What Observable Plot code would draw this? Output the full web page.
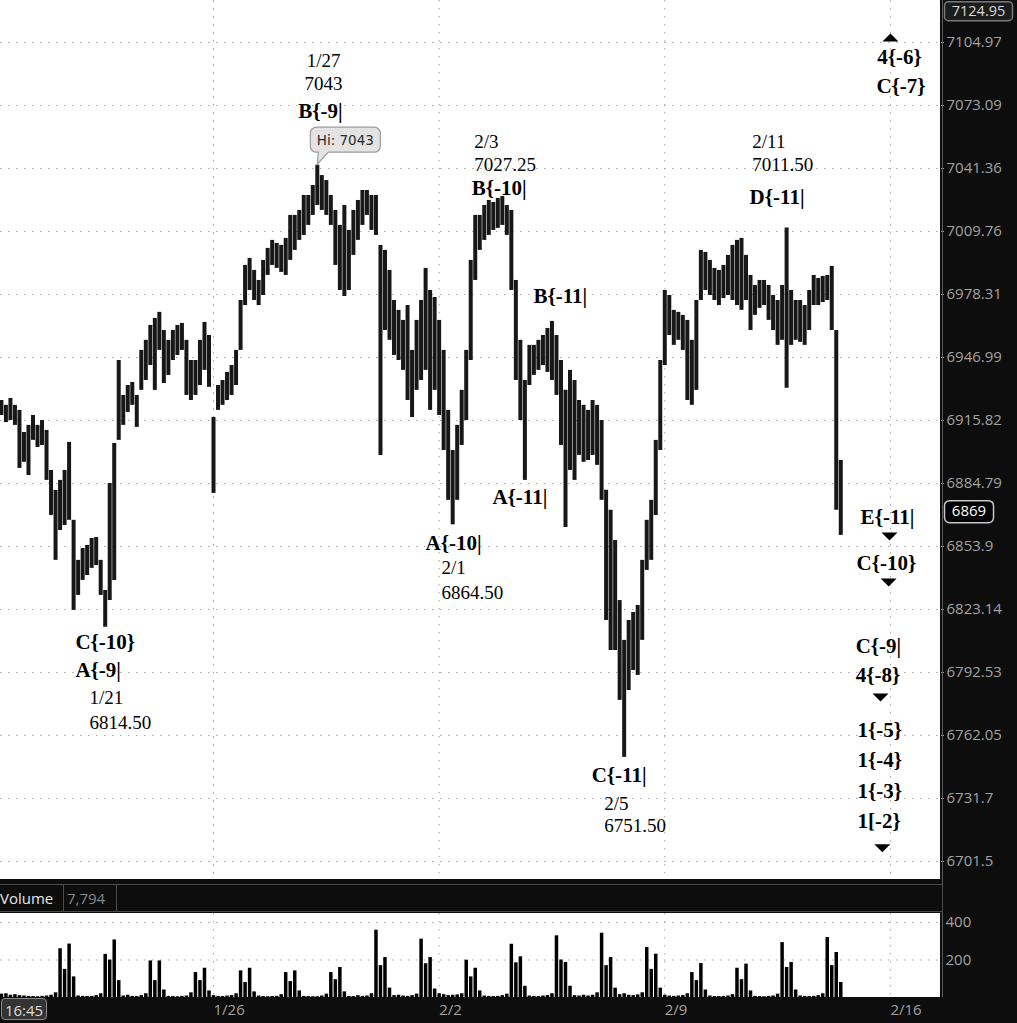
<!DOCTYPE html>
<html><head><meta charset="utf-8">
<script src="https://cdn.jsdelivr.net/npm/d3@7"></script>
<script src="https://cdn.jsdelivr.net/npm/@observablehq/plot@0.6"></script>
<style>
body{margin:0;background:#0d0d0d;}
#wrap{position:relative;width:1017px;height:1023px;background:#0d0d0d;overflow:hidden;font-family:"Open Sans",sans-serif;}
.abs{position:absolute;}
</style></head><body>
<div id="wrap">
  <div class="abs" style="left:0;top:0;width:940px;height:879px;background:#fff;"></div>
  <div class="abs" style="left:0;top:913px;width:940px;height:84px;background:#fff;"></div>
  <div id="main" class="abs" style="left:0;top:0;"></div>
  <div id="vol" class="abs" style="left:0;top:903px;"></div>
  <div class="abs" style="left:942px;top:0;width:1px;height:997px;background:#5a5a5a;"></div>
  <div class="abs" style="left:0;top:884px;width:943px;height:28px;border:1px solid #4a4a4a;border-left:none;box-sizing:border-box;background:#0d0d0d;"></div>
  <div class="abs" style="left:0;top:885px;width:63px;height:26px;border-right:1px solid #4a4a4a;color:#e6e6e6;font-size:15px;line-height:26px;">Volume</div>
  <div class="abs" id="volval" style="left:64px;top:885px;width:53px;height:26px;border-right:1px solid #4a4a4a;color:#8a8a8a;font-size:15px;line-height:26px;padding-left:3px;box-sizing:border-box;"></div>
  <div class="abs" id="timebox" style="left:1px;top:998px;width:46px;height:22px;border:1px solid #8a8a8a;border-radius:4px;background:#333;color:#dcdcdc;font-size:15px;line-height:22px;text-align:center;box-sizing:border-box;"></div>
</div>
<script>
// ---------- data ----------
const priceTicks = [7104.97, 7073.09, 7041.36, 7009.76, 6978.31, 6946.99, 6915.82, 6884.79, 6853.9, 6823.14, 6792.53, 6762.05, 6731.7, 6701.5];
const priceTickLabels = ["7104.97","7073.09","7041.36","7009.76","6978.31","6946.99","6915.82","6884.79","6853.9","6823.14","6792.53","6762.05","6731.7","6701.5"];
const dateTickIdx = [47, 97, 147, 197];
const dateLabels = ["1/26", "2/2", "2/9", "2/16"];
const volTicks = [400, 200];
const topPrice = 7124.95;
const lastPrice = 6869;
const volumeTotal = "7,794";
const timeLabel = "16:45";

const highs = [
6925.7,6923.3,6926.7,6923.3,6920.8,6909.9,6913.4,6918.3,6913.4,6915.8,
6910.9,6891.2,6881.4,6886.3,6891.2,6905.0,6866.7,6847.1,6852.9,6854.4,
6857.8,6858.3,6847.1,6832.4,6884.8,6904.5,6945.5,6928.2,6933.1,6934.6,
6928.2,6950.5,6955.5,6962.9,6966.4,6969.4,6960.4,6955.5,6960.4,6962.9,
6963.9,6955.5,6945.5,6945.5,6955.5,6964.4,6957.9,6917.3,6933.1,6935.6,
6939.6,6943.0,6950.5,6975.3,6992.8,6996.3,6990.3,6985.3,6995.3,7001.3,
7005.3,7003.8,7002.8,7006.3,7017.8,7017.8,7020.3,7027.8,7027.8,7032.8,
7043.0,7037.8,7035.3,7027.8,7020.3,7012.8,7022.8,7010.3,7020.3,7025.3,
7030.3,7030.3,7027.8,7027.8,7002.8,7000.3,6990.3,6975.3,6970.4,6965.4,
6972.8,6950.5,6965.4,6975.3,6991.3,6980.3,6976.8,6965.4,6950.5,6920.8,
6901.0,6913.4,6930.7,6950.5,6995.3,7017.8,7017.8,7022.8,7025.3,7024.3,
7026.3,7027.25,7022.8,7020.3,6985.3,6955.5,6935.6,6953.0,6953.0,6955.5,
6957.9,6961.4,6964.9,6957.9,6945.5,6930.7,6940.6,6935.6,6925.7,6923.3,
6920.8,6925.7,6923.3,6915.8,6881.4,6871.6,6856.8,6827.5,6808.1,6817.8,
6821.7,6825.1,6847.1,6866.7,6876.5,6906.0,6945.5,6980.3,6977.8,6970.4,
6969.4,6967.9,6965.4,6955.5,6975.3,7000.3,6999.3,6995.3,6991.3,6990.3,
6992.8,6997.8,7002.8,7005.3,7006.3,6997.8,6987.8,6982.8,6985.3,6985.3,
6982.8,6977.8,6975.3,6982.8,7011.5,6980.3,6975.3,6975.3,6972.8,6980.3,
6987.8,6986.3,6987.3,6987.8,6992.3,6960.4,6896.1];

const lows = [
6918.3,6914.8,6915.8,6913.4,6892.2,6895.2,6888.7,6906.0,6902.5,6903.5,
6886.3,6869.1,6847.1,6861.7,6864.2,6866.7,6822.7,6830.0,6837.3,6839.7,
6843.2,6844.6,6830.0,6814.5,6827.5,6837.3,6906.0,6913.4,6919.8,6923.3,
6912.4,6930.7,6935.6,6943.0,6930.7,6950.5,6934.1,6938.1,6945.5,6948.0,
6950.5,6928.2,6925.7,6928.2,6933.1,6940.6,6932.2,6879.9,6920.8,6923.3,
6925.7,6928.2,6933.1,6950.5,6972.8,6980.3,6975.3,6972.8,6977.8,6987.8,
6992.8,6991.3,6989.3,6987.8,6995.3,7000.3,7005.3,7007.8,7012.8,7017.8,
7022.8,7020.3,7017.8,7012.8,6992.8,6980.3,6977.3,6980.3,6997.8,7005.3,
7012.8,7017.8,7010.3,7007.8,6898.6,6960.4,6955.5,6948.0,6945.5,6940.6,
6925.7,6917.3,6930.7,6935.6,6940.6,6920.8,6930.7,6918.3,6901.0,6876.5,
6864.5,6876.5,6903.5,6915.8,6945.5,6985.3,7000.3,7005.3,7007.8,7010.3,
7011.3,7012.8,7007.8,6980.3,6935.6,6915.8,6886.3,6933.1,6938.1,6940.6,
6943.0,6939.6,6935.6,6928.2,6903.5,6863.2,6891.2,6886.3,6898.6,6895.2,
6896.1,6898.6,6893.7,6876.5,6817.8,6803.2,6803.2,6779.0,6751.5,6783.8,
6793.5,6791.1,6808.1,6842.2,6847.1,6869.1,6901.0,6943.0,6957.9,6953.0,
6955.5,6950.5,6925.7,6923.3,6930.7,6975.3,6980.3,6977.8,6975.3,6972.8,
6976.3,6977.8,6975.3,6972.8,6970.4,6975.3,6960.4,6967.9,6971.4,6972.8,
6965.4,6960.4,6953.0,6955.5,6931.7,6953.0,6955.5,6954.5,6953.0,6960.4,
6972.8,6972.8,6974.3,6975.3,6960.4,6871.6,6859.3];

const volumes = [
18,20,12,15,10,8,6,5,4,6,8,12,25,
260,150,285,110, 8,6,5,6,10,20,
230,200,307,90, 8,12,6,5,10,20,
195,90,195,40, 6,5,4,6,8,25,
133,90,156,35, 10,6,5,8,10,20,
142,80,156,30, 8,5,4,5,6,15,
133,85,142,35, 6,5,4,4,8,18,
133,95,160,30, 6,5,10,6,8,20,
359,170,213,50, 10,12,8,6,10,18,
311,180,213,45, 20,15,10,12,14,20,
199,110,156,35, 8,6,5,6,10,18,
284,185,217,60, 8,6,5,8,10,20,
329,200,187,60, 10,8,12,8,12,25,
343,170,213,50, 15,20,12,10,14,25,
267,150,231,50, 12,8,6,8,10,20,
133,90,181,40, 8,5,5,6,8,15,
156,95,178,35, 6,5,4,6,8,18,
293,160,187,40, 8,6,5,6,10,20,
320,170,240,80];

// annotation labels (bar index, price)
const boldLabels = [
  {t:"B{-9|", i:70.7, p:7070.1, a:"middle"},
  {t:"B{-10|", i:104.2, p:7031.3, a:"start"},
  {t:"D{-11|", i:165.8, p:7026.8, a:"start"},
  {t:"B{-11|", i:117.9, p:6977.3, a:"start"},
  {t:"A{-11|", i:108.8, p:6877.9, a:"start"},
  {t:"A{-10|", i:94.0, p:6855.4, a:"start"},
  {t:"C{-10}", i:16.4, p:6807.1, a:"start"},
  {t:"A{-9|", i:16.4, p:6793.5, a:"start"},
  {t:"C{-11|", i:130.8, p:6742.8, a:"start"},
  {t:"4{-6}", i:194.1, p:7097.4, a:"start"},
  {t:"C{-7}", i:193.9, p:7082.7, a:"start"},
  {t:"E{-11|", i:190.4, p:6868.1, a:"start"},
  {t:"C{-10}", i:189.5, p:6845.6, a:"start"},
  {t:"C{-9|", i:189.3, p:6805.1, a:"start"},
  {t:"4{-8}", i:189.3, p:6791.1, a:"start"},
  {t:"1{-5}", i:189.7, p:6764.5, a:"start"},
  {t:"1{-4}", i:189.7, p:6750.0, a:"start"},
  {t:"1{-3}", i:189.7, p:6735.1, a:"start"},
  {t:"1[-2}", i:189.7, p:6720.7, a:"start"}
];
const plainLabels = [
  {t:"1/27", i:71.4, p:7095.4, a:"middle"},
  {t:"7043", i:71.4, p:7084.0, a:"middle"},
  {t:"2/3", i:104.8, p:7054.5, a:"start"},
  {t:"7027.25", i:104.8, p:7043.4, a:"start"},
  {t:"2/11", i:166.4, p:7054.5, a:"start"},
  {t:"7011.50", i:166.4, p:7043.4, a:"start"},
  {t:"2/1", i:97.5, p:6843.2, a:"start"},
  {t:"6864.50", i:97.5, p:6831.4, a:"start"},
  {t:"1/21", i:19.5, p:6780.0, a:"start"},
  {t:"6814.50", i:19.5, p:6768.3, a:"start"},
  {t:"2/5", i:133.6, p:6729.3, a:"start"},
  {t:"6751.50", i:133.6, p:6718.3, a:"start"}
];
const upMarkers = [{i:197.0, p:7107.5}];
const downMarkers = [{i:196.8, p:6858.8}, {i:196.6, p:6836.3}, {i:194.8, p:6780.4}, {i:195.2, p:6707.8}];
const highPoint = [{i:70, p:7043}];

// ---------- build ----------
const bars = highs.map((h, i) => ({i, hi: h, lo: lows[i]}));
const vols = volumes.map((v, i) => ({i, v}));
const xDomain = [-0.2, 208.1];
const tickLabel = new Map(priceTicks.map((v, k) => [v, priceTickLabels[k]]));
const dateLabel = new Map(dateTickIdx.map((v, k) => [v, dateLabels[k]]));

function roundRect(w, h, r) {
  return {draw(ctx) {
    const x0 = -w/2, x1 = w/2, y0 = -h/2, y1 = h/2;
    ctx.moveTo(x0 + r, y0);
    ctx.lineTo(x1 - r, y0); ctx.arcTo(x1, y0, x1, y0 + r, r);
    ctx.lineTo(x1, y1 - r); ctx.arcTo(x1, y1, x1 - r, y1, r);
    ctx.lineTo(x0 + r, y1); ctx.arcTo(x0, y1, x0, y1 - r, r);
    ctx.lineTo(x0, y0 + r); ctx.arcTo(x0, y0, x0 + r, y0, r);
    ctx.closePath();
  }};
}
const callout = {draw(ctx) {
  const x0 = -7, x1 = 63, y0 = -38, y1 = -13, r = 6;
  ctx.moveTo(x0 + r, y0);
  ctx.lineTo(x1 - r, y0); ctx.arcTo(x1, y0, x1, y0 + r, r);
  ctx.lineTo(x1, y1 - r); ctx.arcTo(x1, y1, x1 - r, y1, r);
  ctx.lineTo(11, y1); ctx.lineTo(0, -1); ctx.lineTo(1, y1);
  ctx.lineTo(x0 + r, y1); ctx.arcTo(x0, y1, x0, y1 - r, r);
  ctx.lineTo(x0, y0 + r); ctx.arcTo(x0, y0, x0 + r, y0, r);
  ctx.closePath();
}};
const triUp = {draw(ctx) { ctx.moveTo(-8, 4); ctx.lineTo(8, 4); ctx.lineTo(0, -4); ctx.closePath(); }};
const triDown = {draw(ctx) { ctx.moveTo(-8, -4); ctx.lineTo(8, -4); ctx.lineTo(0, 4); ctx.closePath(); }};

const serif = "'Liberation Serif','Times New Roman',serif";
const grid = {stroke: "#a8a8a8", strokeDasharray: "1.5,6.5", strokeWidth: 1};
const boldStyle = {x: "i", y: "p", text: "t", fontFamily: serif, fontWeight: "bold", fontSize: 21, fill: "#000"};
const plainStyle = {x: "i", y: "p", text: "t", fontFamily: serif, fontSize: 19, fill: "#000"};

const main = Plot.plot({
  width: 1017, height: 880,
  marginLeft: 0, marginRight: 77, marginTop: 0, marginBottom: 0,
  style: {background: "transparent", fontFamily: "'Open Sans',sans-serif"},
  x: {domain: xDomain, axis: null},
  y: {type: "log", domain: [6692.4, 7126.3]},
  marks: [
    Plot.ruleY(priceTicks, {y: d => d, ...grid}),
    Plot.ruleX(dateTickIdx, {x: d => d, ...grid}),
    Plot.ruleX(bars, {x: "i", y1: "lo", y2: "hi", stroke: "#171717", strokeWidth: 4}),
    Plot.axisY(priceTicks, {anchor: "right", tickSize: 3, tickPadding: 3, tickFormat: d => tickLabel.get(d),
      color: "#a2a2a2", fontSize: 15, fontFamily: "'Open Sans',sans-serif", label: null}),
    Plot.dot(highPoint, {x: "i", y: "p", symbol: callout, fill: "#e3e3e3", stroke: "#9c9c9c", strokeWidth: 1.2, r: 5}),
    Plot.text(highPoint, {x: "i", y: "p", text: d => `Hi: ${d.p}`, dx: 28, dy: -25, fontSize: 13.5,
      fontFamily: "'DejaVu Sans',sans-serif", fill: "#2a2a2a"}),
    Plot.text(boldLabels.filter(d => d.a === "start"), {...boldStyle, textAnchor: "start"}),
    Plot.text(boldLabels.filter(d => d.a === "middle"), {...boldStyle, textAnchor: "middle"}),
    Plot.text(plainLabels.filter(d => d.a === "start"), {...plainStyle, textAnchor: "start"}),
    Plot.text(plainLabels.filter(d => d.a === "middle"), {...plainStyle, textAnchor: "middle"}),
    Plot.dot(upMarkers, {x: "i", y: "p", symbol: triUp, fill: "#000", stroke: "none", r: 5}),
    Plot.dot(downMarkers, {x: "i", y: "p", symbol: triDown, fill: "#000", stroke: "none", r: 5}),
    Plot.dot([{p: topPrice}], {x: () => xDomain[1], y: "p", dx: 38, dy: 8, symbol: roundRect(68, 19, 4), fill: "#1c1c1c", stroke: "#7a7a7a", r: 5}),
    Plot.text([{p: topPrice}], {x: () => xDomain[1], y: "p", dx: 38, dy: 8, text: d => d.p.toFixed(2), fill: "#d8d8d8", fontSize: 14.5}),
    Plot.dot([{p: lastPrice}], {x: () => xDomain[1], y: "p", dx: 28.5, dy: -4, symbol: roundRect(49, 22, 5), fill: "#000", stroke: "#c8c8c8", r: 5}),
    Plot.text([{p: lastPrice}], {x: () => xDomain[1], y: "p", dx: 28.5, dy: -4, text: d => String(d.p), fill: "#fff", fontSize: 15})
  ]
});
document.getElementById("main").appendChild(main);

const vol = Plot.plot({
  width: 1017, height: 120,
  marginLeft: 0, marginRight: 77, marginTop: 10, marginBottom: 26,
  style: {background: "transparent", fontFamily: "'Open Sans',sans-serif"},
  x: {domain: xDomain},
  y: {domain: [0, 448]},
  marks: [
    Plot.ruleY(volTicks, {y: d => d, ...grid}),
    Plot.ruleX(dateTickIdx, {x: d => d, ...grid}),
    Plot.ruleX(vols, {x: "i", y1: 0, y2: "v", stroke: "#000", strokeWidth: 3.5}),
    Plot.axisY(volTicks, {anchor: "right", tickSize: 0, tickPadding: 5, color: "#a2a2a2", fontSize: 15, label: null}),
    Plot.axisX(dateTickIdx, {anchor: "bottom", tickSize: 0, tickPadding: 7, textAnchor: "start",
      tickFormat: d => dateLabel.get(d), color: "#a2a2a2", fontSize: 15, label: null})
  ]
});
document.getElementById("vol").appendChild(vol);
document.getElementById("volval").textContent = volumeTotal;
document.getElementById("timebox").textContent = timeLabel;
</script>
</body></html>
